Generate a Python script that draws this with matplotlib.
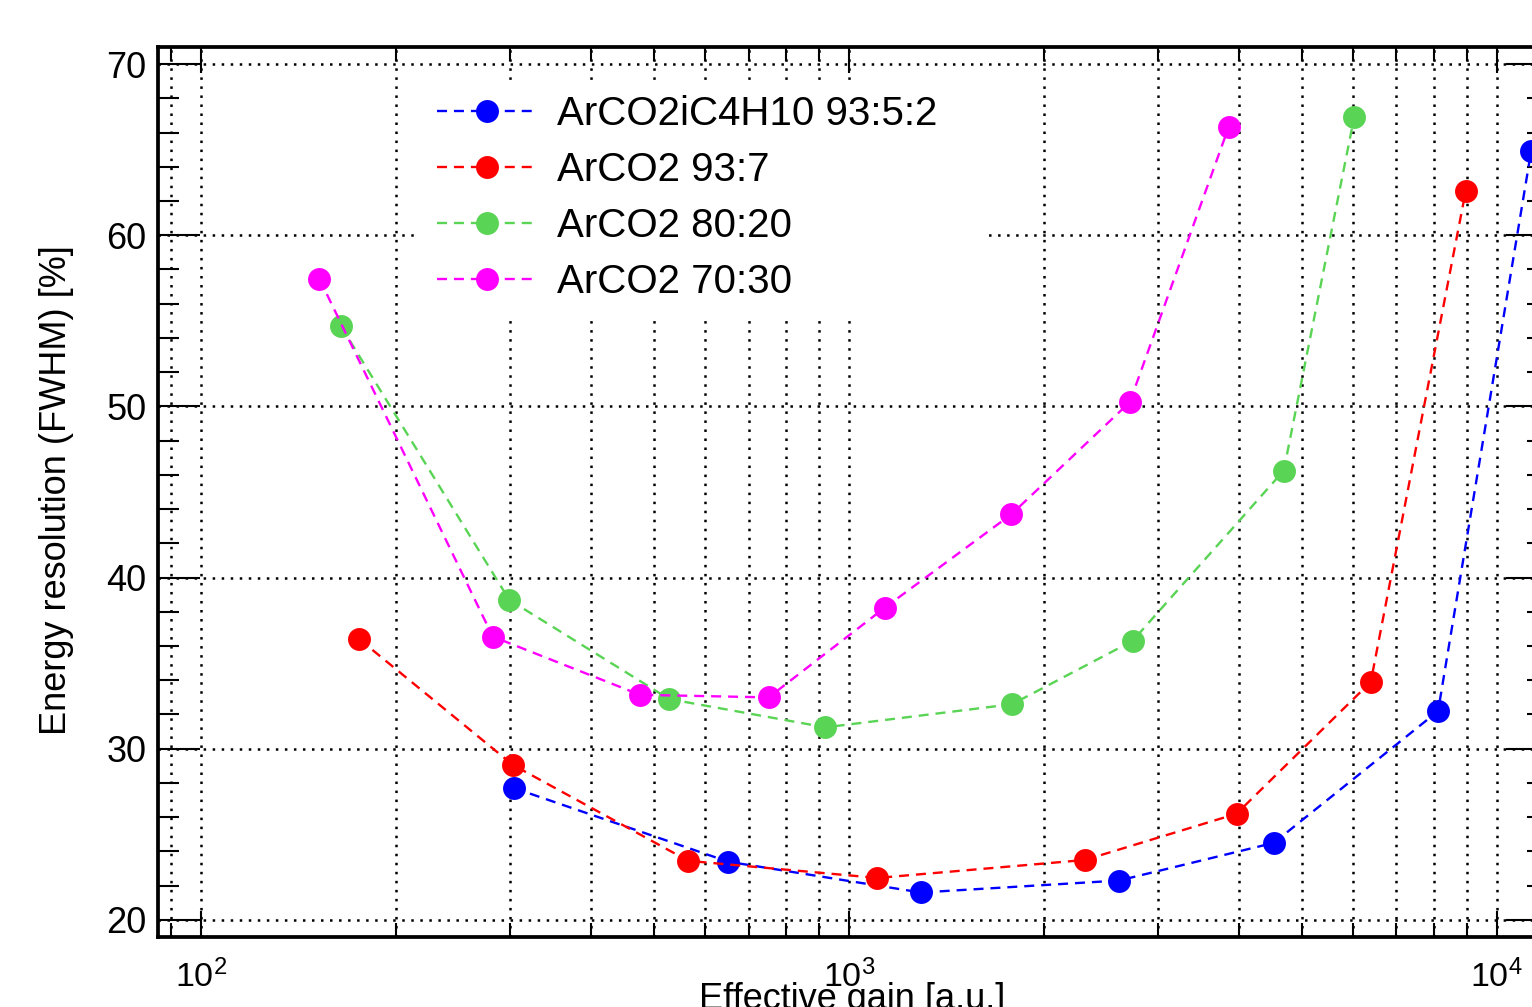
import matplotlib
matplotlib.use("Agg")
import matplotlib.pyplot as plt
from matplotlib.ticker import FixedLocator, FixedFormatter, NullFormatter
from matplotlib.patches import Rectangle

plt.rcParams['font.family'] = ['Liberation Sans', 'DejaVu Sans']
plt.rcParams['mathtext.fontset'] = 'custom'
plt.rcParams['mathtext.rm'] = 'Liberation Sans'
plt.rcParams['lines.scale_dashes'] = False

# Energy resolution vs effective gain for four gas mixtures
labels = ["ArCO2iC4H10 93:5:2", "ArCO2 93:7", "ArCO2 80:20", "ArCO2 70:30"]
colors = ["#0000ff", "#ff0000", "#59d454", "#ff00ff"]

gain_arco2ic4h10_93_5_2 = [304, 651, 1292, 2613, 4528, 8119, 11300]
res_arco2ic4h10_93_5_2 = [27.7, 23.4, 21.6, 22.3, 24.5, 32.2, 64.9]

gain_arco2_93_7 = [175.5, 303, 565, 1107, 2313, 3966, 6391, 8958]
res_arco2_93_7 = [36.4, 29.05, 23.45, 22.45, 23.5, 26.2, 33.9, 62.6]

gain_arco2_80_20 = [164.3, 299, 528, 920, 1786, 2741, 4691, 6025]
res_arco2_80_20 = [54.7, 38.7, 32.9, 31.25, 32.6, 36.3, 46.25, 66.9]

gain_arco2_70_30 = [152.3, 282, 476, 752, 1137, 1782, 2714, 3859]
res_arco2_70_30 = [57.45, 36.55, 33.15, 33.0, 38.25, 43.7, 50.25, 66.35]

series = [
    (gain_arco2ic4h10_93_5_2, res_arco2ic4h10_93_5_2),
    (gain_arco2_93_7, res_arco2_93_7),
    (gain_arco2_80_20, res_arco2_80_20),
    (gain_arco2_70_30, res_arco2_70_30),
]

x_major = [100, 1000, 10000]
x_major_labels = [r"$\mathregular{10^{2}}$", r"$\mathregular{10^{3}}$", r"$\mathregular{10^{4}}$"]
x_minor = [90] + [k * 100 for k in range(2, 10)] + [k * 1000 for k in range(2, 10)]
y_major = [20, 30, 40, 50, 60, 70]
y_minor = [v for v in range(20, 71, 2) if v % 10 != 0]

W, H = 1532, 1007
fig = plt.figure(figsize=(W / 100, H / 100), dpi=100)
ax = fig.add_axes([158 / W, (H - 937) / H, (1548 - 158) / W, (937 - 47) / H])

ax.set_xscale('log')
ax.set_xlim(85.8, 12000)
ax.set_ylim(19, 71)

ax.xaxis.set_major_locator(FixedLocator(x_major))
ax.xaxis.set_major_formatter(FixedFormatter(x_major_labels))
ax.xaxis.set_minor_locator(FixedLocator(x_minor))
ax.xaxis.set_minor_formatter(NullFormatter())
ax.yaxis.set_major_locator(FixedLocator(y_major))
ax.yaxis.set_minor_locator(FixedLocator(y_minor))

for s in ax.spines.values():
    s.set_linewidth(2.7)

ax.tick_params(which='both', direction='in', top=True, right=True, width=1.5, color='black')
ax.tick_params(axis='y', which='major', length=30, labelsize=26, pad=8.5)
ax.tick_params(axis='y', which='minor', length=15)
ax.tick_params(axis='x', which='major', length=19, labelsize=24.5, pad=16)
ax.tick_params(axis='x', which='minor', length=10)

grid_style = dict(color='black', linestyle=(0, (1.8, 4.7)), linewidth=1.8)
ax.set_axisbelow(True)
ax.grid(True, which='major', axis='both', **grid_style)
ax.xaxis.grid(True, which='minor', **grid_style)

# white box behind the legend entries
ax.add_patch(Rectangle((415 / W, (H - 315) / H), (985 - 415) / W, (315 - 85) / H,
                       transform=fig.transFigure, facecolor='white', edgecolor='none', zorder=1))

handles = []
for (gx, ry), c, lab in zip(series, colors, labels):
    h, = ax.plot(gx, ry, linestyle=(0, (7.2, 5.0)), linewidth=1.7, color=c,
                 marker='o', markersize=16.5, markeredgewidth=0, label=lab, zorder=2)
    handles.append(h)

leg = ax.legend(handles=handles, loc='upper left', frameon=False, fontsize=29,
                handlelength=2.48, handletextpad=0.5, labelspacing=0.45,
                borderpad=0, borderaxespad=0, numpoints=1,
                bbox_to_anchor=(437 / W, (H - 95) / H), bbox_transform=fig.transFigure)
leg.set_zorder(5)

fig.text(57 / W, 1 - 490 / H, "Energy resolution (FWHM) [%]", rotation=90,
         ha='center', va='center', fontsize=26)
fig.text(852 / W, (H - 1009) / H, "Effective gain [a.u.]", ha='center',
         va='baseline', fontsize=26)

fig.savefig("out.png", dpi=100)
